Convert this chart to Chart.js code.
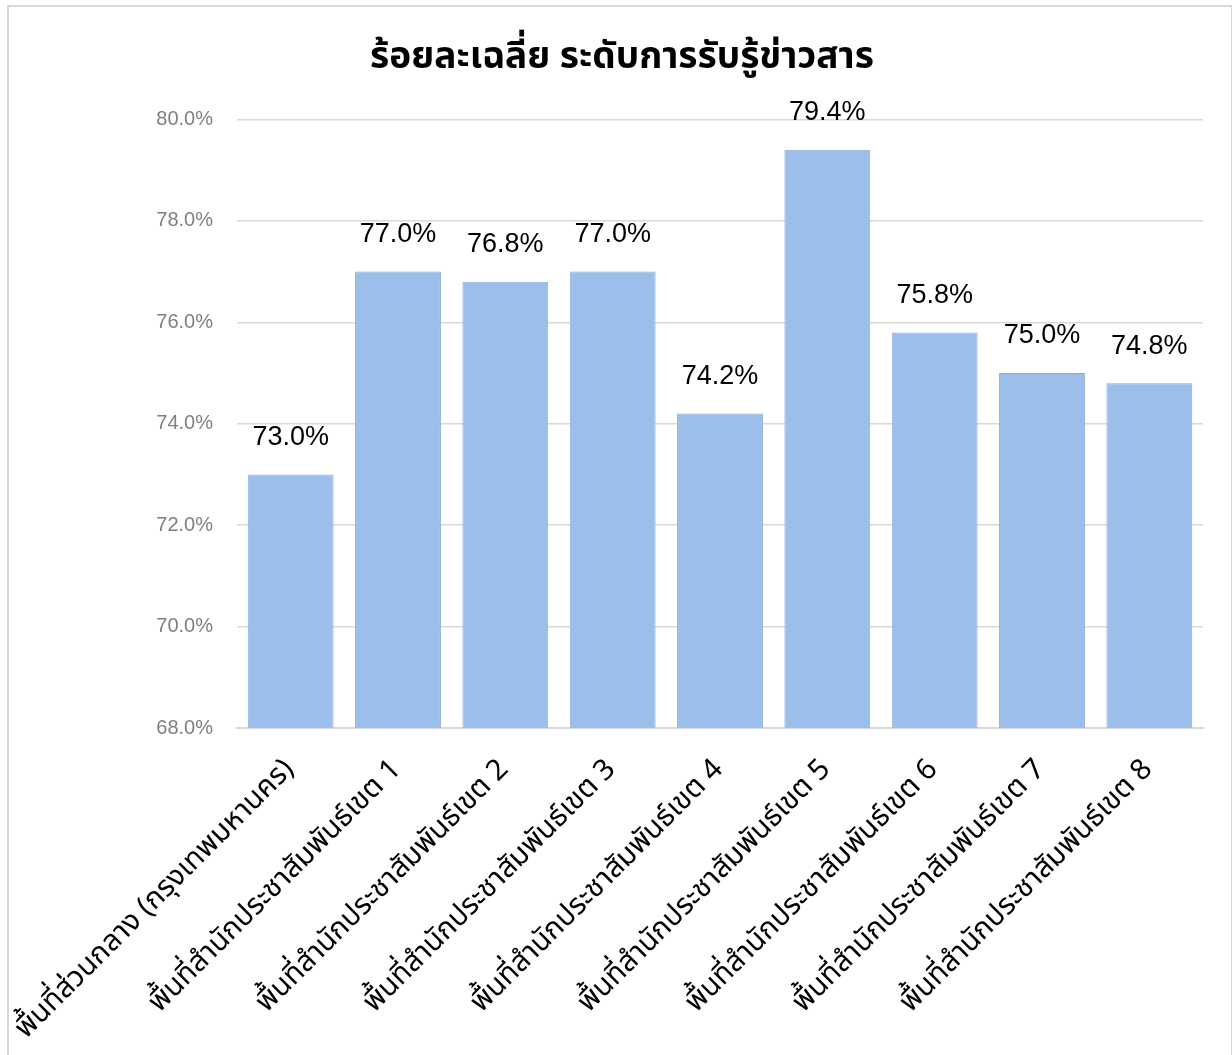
<!DOCTYPE html>
<html>
<head>
<meta charset="utf-8">
<script src="https://cdn.jsdelivr.net/npm/chart.js@4.4.0/dist/chart.umd.min.js"></script>
<style>
  html, body { margin: 0; padding: 0; background: #fff; }
  #wrap { position: absolute; left: 0; top: 0; width: 1232px; height: 1055px; overflow: hidden; }
  #frame { position: absolute; left: 7px; top: 5px; width: 1226px; height: 1070px; border: 2px solid #d9d9d9; box-sizing: border-box; }
  canvas { position: absolute; left: 0; top: 0; }
</style>
</head>
<body>
<div id="wrap">
  <div id="frame"></div>
  <canvas id="c" width="1232" height="1055"></canvas>
</div>
<script>
const categories = [
  "พื้นที่ส่วนกลาง (กรุงเทพมหานคร)",
  "พื้นที่สำนักประชาสัมพันธ์เขต 1",
  "พื้นที่สำนักประชาสัมพันธ์เขต 2",
  "พื้นที่สำนักประชาสัมพันธ์เขต 3",
  "พื้นที่สำนักประชาสัมพันธ์เขต 4",
  "พื้นที่สำนักประชาสัมพันธ์เขต 5",
  "พื้นที่สำนักประชาสัมพันธ์เขต 6",
  "พื้นที่สำนักประชาสัมพันธ์เขต 7",
  "พื้นที่สำนักประชาสัมพันธ์เขต 8"
];
const values = [73.0, 77.0, 76.8, 77.0, 74.2, 79.4, 75.8, 75.0, 74.8];
const yTicks = [68, 70, 72, 74, 76, 78, 80];
const titleText = "ร้อยละเฉลี่ย ระดับการรับรู้ข่าวสาร";

const thaiFont = "Tahoma, 'Noto Sans Thai', 'Noto Sans', 'DejaVu Sans', sans-serif";

const valueLabels = {
  id: 'valueLabels',
  afterDatasetsDraw(chart) {
    const ctx = chart.ctx;
    const meta = chart.getDatasetMeta(0);
    ctx.save();
    ctx.font = "27px 'Liberation Sans', Arial, sans-serif";
    ctx.fillStyle = '#000';
    ctx.textAlign = 'center';
    ctx.textBaseline = 'middle';
    meta.data.forEach((bar, i) => {
      ctx.fillText(values[i].toFixed(1) + '%', bar.x, bar.y - 37);
    });
    ctx.restore();
  }
};

new Chart(document.getElementById('c'), {
  type: 'bar',
  data: {
    labels: categories,
    datasets: [{
      data: values,
      backgroundColor: '#9bbfea',
      borderColor: '#8aabd6',
      borderWidth: 1,
      barPercentage: 0.8,
      categoryPercentage: 1.0
    }]
  },
  options: {
    responsive: false,
    animation: false,
    layout: { padding: { left: 41, right: 29, top: 0, bottom: 0 } },
    plugins: {
      legend: { display: false },
      tooltip: { enabled: false },
      title: {
        display: true,
        text: titleText,
        color: '#000',
        font: { family: thaiFont, size: 37, weight: 'bold' },
        padding: { top: 38, bottom: 37 }
      }
    },
    scales: {
      x: {
        grid: { display: false },
        border: { display: true, color: '#d9d9d9', width: 2 },
        ticks: {
          color: '#000',
          font: { family: thaiFont, size: 29 },
          maxRotation: 45,
          minRotation: 45,
          autoSkip: false,
          padding: 18
        },
        afterFit(scale) {
          scale.height = 1055 - 728;
          scale.paddingLeft = 0;
          scale.paddingRight = 0;
        }
      },
      y: {
        min: 68,
        max: 80,
        afterBuildTicks(scale) { scale.ticks = yTicks.map(v => ({ value: v })); },
        grid: { color: '#d9d9d9', lineWidth: 1.5, drawTicks: false },
        border: { display: false },
        ticks: {
          color: '#7f7f7f',
          font: { family: "'Liberation Sans', Arial, sans-serif", size: 20 },
          padding: 24,
          callback: v => v.toFixed(1) + '%'
        },
        afterFit(scale) { scale.width = 237 - 41; }
      }
    }
  },
  plugins: [valueLabels]
});
</script>
</body>
</html>
